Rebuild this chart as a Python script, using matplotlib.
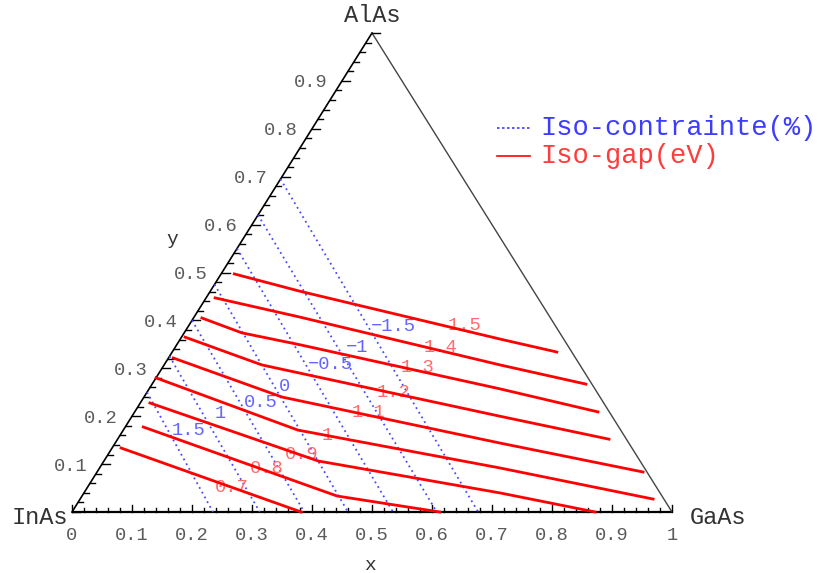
import numpy as np
import matplotlib
matplotlib.use("Agg")
import matplotlib.pyplot as plt

plt.rcParams['font.family'] = ['Liberation Mono', 'DejaVu Sans']

# Composition Ga(x) Al(y) In(1-x-y) As
H = 479 / 600  # height of the triangle (base = 1)

# iso-contrainte lines (%): intercept on the InAs-AlAs edge (y) and on the InAs-GaAs edge (x)
strain_vals = [1.5, 1, 0.5, 0, -0.5, -1, -1.5]
strain_y0 = [0.25, 0.325, 0.40, 0.475, 0.55, 0.62, 0.695]
strain_x0 = [0.235, 0.313, 0.387, 0.460, 0.535, 0.608, 0.677]

# iso-gap lines (eV), polylines as (x, y) compositions
gap_vals = [1.5, 1.4, 1.3, 1.2, 1.1, 1.0, 0.9, 0.8, 0.7]
gap_x = [
    [0.022, 0.149, 0.533, 0.641],
    [0.015, 0.176, 0.560, 0.723],
    [0.014, 0.096, 0.206, 0.585, 0.772],
    [0.006, 0.163, 0.613, 0.819],
    [0.008, 0.230, 0.641, 0.910],
    [0.000, 0.291, 0.667, 0.955],
    [0.016, 0.357, 0.694, 0.872],
    [0.030, 0.425, 0.613],
    [0.015, 0.382],
]
gap_y = [
    [0.497, 0.461, 0.361, 0.334],
    [0.447, 0.407, 0.307, 0.267],
    [0.405, 0.374, 0.349, 0.257, 0.209],
    [0.365, 0.307, 0.200, 0.152],
    [0.3215, 0.240, 0.144, 0.0835],
    [0.280, 0.171, 0.092, 0.027],
    [0.2276, 0.1065, 0.0397, 0.0],
    [0.1775, 0.0334, 0.0],
    [0.1336, 0.0],
]
gap_labels = ['1.5', '1.4', '1.3', '1.2', '1.1', '1', '0.9', '0.8', '0.7']
strain_labels = ['1.5', '1', '0.5', '0', '-0.5', '-1', '-1.5']

# where the contour labels sit (composition)
gap_lab_pos = [(0.460, 0.390), (0.443, 0.344), (0.425, 0.301), (0.410, 0.2505),
               (0.390, 0.207), (0.346, 0.159), (0.323, 0.121), (0.280, 0.090),
               (0.241, 0.052)]
strain_lab_pos = [(0.108, 0.171), (0.144, 0.205), (0.200, 0.228), (0.223, 0.263),
                  (0.277, 0.307), (0.303, 0.344), (0.341, 0.388)]

tick_vals = np.round(np.arange(0, 1.001, 0.1), 1)


def tern(x, y):
    x = np.asarray(x, dtype=float)
    y = np.asarray(y, dtype=float)
    return x + y / 2, y * H


fig = plt.figure(figsize=(8.19, 5.73), dpi=100)
ax = fig.add_axes([0, 0, 1, 1])
ax.set_xlim(-72 / 600, 747 / 600)
ax.set_ylim(-61 / 600, 512 / 600)
ax.axis('off')

# triangle
ax.plot([0, 1], [0, 0], color='black', lw=1.6, solid_capstyle='butt')
ax.plot([0, 0.5], [0, H], color='black', lw=1.2)
ax.plot([0.5, 1], [H, 0], color='#444444', lw=1.0)

# ticks
px = 1 / 600
for k in range(51):
    t = k * 0.02
    major = (k % 5 == 0)
    L = (7 if major else 4) * px
    ax.plot([t, t], [0, L], color='black', lw=1.0)
    lx, ly = tern(0, t)
    Ll = (8 if major else 5) * px
    ax.plot([lx, lx + Ll], [ly, ly], color='black', lw=1.0)

for v in tick_vals:
    lab = '%g' % v
    ax.text(v, -23 * px, lab, ha='center', va='center', fontsize=13.5, color='#5a5a5a')
    if 0 < v < 1:
        lx, ly = tern(0, v)
        ax.text(lx - 14 * px, ly - 2 * px, lab, ha='right', va='center', fontsize=13.5,
                color='#5a5a5a')

ax.text(0.5, H + 17 * px, 'AlAs', ha='center', va='center', fontsize=17, color='#333333')
ax.text(-4 * px, -5 * px, 'InAs', ha='right', va='center', fontsize=17, color='#333333')
ax.text(1 + 18 * px, -5 * px, 'GaAs', ha='left', va='center', fontsize=17, color='#333333')
ax.text(298 * px, -53 * px, 'x', ha='center', va='center', fontsize=14, color='#333333')
ax.text(100 * px, 272 * px, 'y', ha='center', va='center', fontsize=14, color='#333333')

# iso-contrainte
for y0, x0 in zip(strain_y0, strain_x0):
    X, Y = tern([0, x0], [y0, 0])
    ax.plot(X, Y, color='#4a4aff', lw=1.3, linestyle=(0, (1, 2)))

for lab, (lx, ly) in zip(strain_labels, strain_lab_pos):
    X, Y = tern(lx, ly)
    ax.text(X, Y, lab.replace('-', '\u2212'), ha='center', va='center', fontsize=13.5,
            color='#6464ff')

# iso-gap
for xs, ys in zip(gap_x, gap_y):
    X, Y = tern(xs, ys)
    ax.plot(X, Y, color='red', lw=2.0, zorder=3)

for lab, (lx, ly) in zip(gap_labels, gap_lab_pos):
    X, Y = tern(lx, ly)
    ax.text(X, Y, lab, ha='center', va='center', fontsize=13.5, color='#ff6a6a', zorder=2)

# legend
ax.plot([425 * px, 458 * px], [384 * px, 384 * px], color='#3a3aff', lw=1.2,
        linestyle=(0, (1.5, 1.5)))
ax.text(468 * px, 384 * px, 'Iso-contrainte(%)', ha='left', va='center', fontsize=19.5,
        color='#3c3cff')
ax.plot([425 * px, 458 * px], [356 * px, 356 * px], color='red', lw=1.2)
ax.text(468 * px, 356 * px, 'Iso-gap(eV)', ha='left', va='center', fontsize=19.5,
        color='#ff3c3c')

fig.savefig('out.png', dpi=100)
